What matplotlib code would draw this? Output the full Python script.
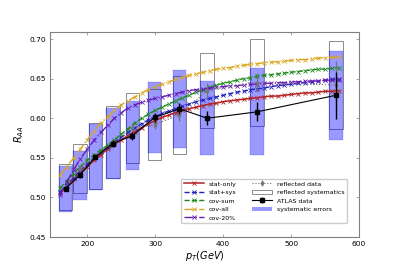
import matplotlib
matplotlib.use('Agg')
import matplotlib.pyplot as plt
from matplotlib.patches import Rectangle, Patch
import numpy as np

# ATLAS data points
pt = [168, 189, 212, 237.5, 266.5, 299, 335.5, 376.5, 449.5, 566]
raa = [0.511, 0.528, 0.551, 0.568, 0.578, 0.601, 0.612, 0.600, 0.608, 0.629]
stat = [0.003, 0.003, 0.003, 0.004, 0.005, 0.006, 0.007, 0.009, 0.012, 0.030]
syst = [0.029, 0.031, 0.042, 0.045, 0.044, 0.045, 0.049, 0.047, 0.055, 0.056]
refl = [0.513, 0.537, 0.552, 0.570, 0.588, 0.592, 0.604, 0.635, 0.645, 0.642]

pt_fit = list(range(160, 571, 10))
stat_only = [0.505, 0.514, 0.523, 0.531, 0.539, 0.547, 0.554, 0.561, 0.567, 0.573,
             0.578, 0.583, 0.588, 0.593, 0.597, 0.601, 0.604, 0.607, 0.610, 0.612,
             0.614, 0.616, 0.618, 0.619, 0.621, 0.622, 0.623, 0.624, 0.625, 0.626,
             0.627, 0.628, 0.628, 0.629, 0.630, 0.631, 0.632, 0.632, 0.633, 0.634,
             0.634, 0.635]
stat_sys = [0.507, 0.516, 0.525, 0.534, 0.542, 0.550, 0.557, 0.564, 0.570, 0.576,
            0.582, 0.588, 0.593, 0.598, 0.602, 0.606, 0.609, 0.612, 0.615, 0.618,
            0.621, 0.623, 0.625, 0.627, 0.629, 0.631, 0.633, 0.634, 0.636, 0.637,
            0.638, 0.640, 0.641, 0.642, 0.643, 0.644, 0.645, 0.646, 0.647, 0.648,
            0.649, 0.650]
cov_sum = [0.512, 0.521, 0.530, 0.539, 0.547, 0.554, 0.560, 0.566, 0.573, 0.580,
           0.587, 0.594, 0.600, 0.605, 0.610, 0.614, 0.618, 0.622, 0.626, 0.629,
           0.633, 0.636, 0.639, 0.642, 0.644, 0.646, 0.648, 0.650, 0.651, 0.653,
           0.654, 0.655, 0.656, 0.657, 0.658, 0.659, 0.660, 0.661, 0.662, 0.662,
           0.663, 0.664]
cov_all = [0.528, 0.539, 0.550, 0.561, 0.573, 0.584, 0.594, 0.602, 0.610, 0.617,
           0.622, 0.627, 0.632, 0.636, 0.640, 0.643, 0.646, 0.649, 0.652, 0.654,
           0.656, 0.658, 0.660, 0.662, 0.663, 0.664, 0.666, 0.667, 0.668, 0.669,
           0.670, 0.671, 0.671, 0.672, 0.673, 0.674, 0.674, 0.675, 0.676, 0.676,
           0.677, 0.677]
cov_20 = [0.503, 0.520, 0.535, 0.549, 0.561, 0.572, 0.582, 0.591, 0.600, 0.607,
          0.613, 0.617, 0.620, 0.623, 0.625, 0.627, 0.629, 0.631, 0.633, 0.635,
          0.636, 0.637, 0.638, 0.639, 0.640, 0.641, 0.641, 0.642, 0.643, 0.643,
          0.644, 0.644, 0.645, 0.645, 0.646, 0.646, 0.647, 0.647, 0.647, 0.648,
          0.648, 0.648]

fig = plt.figure(figsize=(3.99, 2.66), dpi=100)
ax = fig.add_axes([0.125, 0.109, 0.775, 0.771])

# reflected systematics (white) under the real systematics (blue)
box_w = 20
for x, r, s, rf in zip(pt, raa, syst, refl):
    ax.add_patch(Rectangle((x - box_w/2, rf - s), box_w, 2*s, facecolor='white',
                           edgecolor='0.55', lw=0.7, zorder=1))
for x, r, s in zip(pt, raa, syst):
    ax.add_patch(Rectangle((x - box_w/2, r - s), box_w, 2*s, facecolor='blue',
                           edgecolor='blue', lw=0.3, alpha=0.4, zorder=2))

ms = 2.5
ax.plot(pt_fit, stat_only, '-', color='#b22222', marker='x', ms=ms, mew=0.6, lw=1.1, label='stat-only', zorder=4)
ax.plot(pt_fit, stat_sys, '--', color='#2222bb', marker='x', ms=ms, mew=0.6, lw=1.0, label='stat+sys', zorder=4)
ax.plot(pt_fit, cov_sum, '--', color='#1a8a1a', marker='x', ms=ms, mew=0.6, lw=1.0, label='cov-sum', zorder=4)
ax.plot(pt_fit, cov_all, '-.', color='#daa520', marker='x', ms=ms, mew=0.6, lw=1.0, label='cov-all', zorder=4)
ax.plot(pt_fit, cov_20, '-.', color='#6a1bb5', marker='x', ms=ms, mew=0.6, lw=1.0, label='cov-20%', zorder=4)

ax.errorbar(pt, refl, yerr=stat, fmt='d', ls=':', color='0.45', ms=2, lw=0.8,
            elinewidth=0.8, label='reflected data', zorder=5)
ax.errorbar(pt, raa, yerr=stat, fmt='s', ls='-', color='black', ms=3, lw=0.8,
            elinewidth=1.0, label='ATLAS data', zorder=6)

ax.set_xlim(145, 600)
ax.set_ylim(0.45, 0.709)
ax.set_xticks([200, 300, 400, 500, 600])
ax.set_yticks([0.45, 0.50, 0.55, 0.60, 0.65, 0.70])
ax.set_yticklabels(['0.45', '0.50', '0.55', '0.60', '0.65', '0.70'])
ax.tick_params(direction='in', top=True, right=True, labelsize=5.4, length=2.5,
               width=0.5, color='0.5', pad=3)
for sp in ax.spines.values():
    sp.set_color('0.5')
    sp.set_linewidth(0.8)

ax.set_xlabel('$p_T(GeV)$', fontsize=7, labelpad=1)
ax.set_ylabel('$R_{AA}$', fontsize=7, labelpad=2)

handles, labels = ax.get_legend_handles_labels()
hmap = dict(zip(labels, handles))
refl_box = Patch(facecolor='white', edgecolor='0.55', lw=0.7)
blue_box = Patch(facecolor='blue', alpha=0.4, edgecolor='none')
order = [hmap['stat-only'], hmap['stat+sys'], hmap['cov-sum'], hmap['cov-all'], hmap['cov-20%'],
         hmap['reflected data'], refl_box, hmap['ATLAS data'], blue_box]
names = ['stat-only', 'stat+sys', 'cov-sum', 'cov-all', 'cov-20%',
         'reflected data', 'reflected systematics', 'ATLAS data', 'systematic errors']
ax.legend(order, names, ncol=2, loc='lower right', bbox_to_anchor=(0.96, 0.068),
          borderaxespad=0, fontsize=4.5, handlelength=3.2, columnspacing=2.4,
          labelspacing=0.5, framealpha=1, edgecolor='0.8')

fig.savefig('out.png', dpi=100)
